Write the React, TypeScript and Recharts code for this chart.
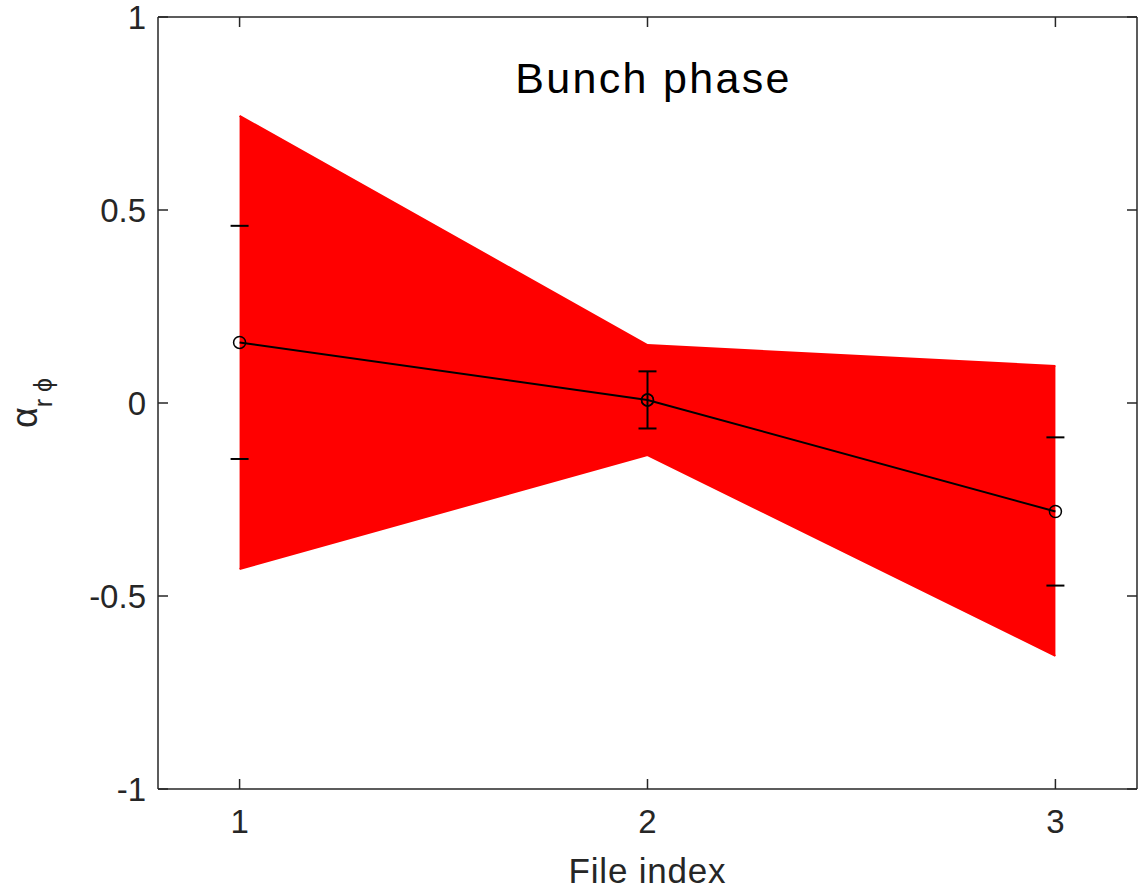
import {
  Area,
  ComposedChart,
  ErrorBar,
  Label,
  Line,
  Scatter,
  XAxis,
  YAxis,
} from "recharts";

const fileIndex = [1, 2, 3];
const alphaRPhi = [0.157, 0.008, -0.281];
const alphaErr = [0.302, 0.074, 0.192];
const bandLow = [-0.43, -0.135, -0.655];
const bandHigh = [0.744, 0.15, 0.096];

const xTicks = [1, 2, 3];
const yTicks = [-1, -0.5, 0, 0.5, 1];

const AXIS = "#262626";
const FONT = "'Liberation Sans', Arial, Helvetica, sans-serif";
const TICK_LEN = 10;
const CAP = 9;

const data = fileIndex.map((f, i) => ({
  file: f,
  alpha: alphaRPhi[i],
  err: alphaErr[i],
  band: [bandLow[i], bandHigh[i]],
}));

// middle point keeps a full error bar; at the ends the red patch hides
// the vertical stroke so only the caps show
const midData = [data[1]];
const capData = data
  .filter((_, i) => i !== 1)
  .flatMap((d) => [
    { file: d.file, cap: d.alpha + d.err },
    { file: d.file, cap: d.alpha - d.err },
  ]);

const axisLine = { stroke: AXIS, strokeWidth: 1.5 };

function CapShape({ cx, cy }: any) {
  return <line x1={cx - CAP} x2={cx + CAP} y1={cy} y2={cy} stroke="#000" strokeWidth={2} />;
}

function Marker({ cx, cy, index }: any) {
  return <circle key={index} cx={cx} cy={cy} r={6} stroke="#000" strokeWidth={1.5} fill="none" />;
}

// matlab style: tick marks point into the box, so draw them with the label
function makeTick(side: "bottom" | "top" | "left" | "right", margin: number, showText: boolean) {
  return (props: any) => {
    const { x, y, payload } = props;
    let line;
    if (side === "bottom") line = { x1: x, x2: x, y1: y - margin, y2: y - margin - TICK_LEN };
    else if (side === "top") line = { x1: x, x2: x, y1: y + margin, y2: y + margin + TICK_LEN };
    else if (side === "left") line = { x1: x + margin, x2: x + margin + TICK_LEN, y1: y, y2: y };
    else line = { x1: x - margin, x2: x - margin - TICK_LEN, y1: y, y2: y };
    return (
      <g>
        <line {...line} stroke={AXIS} strokeWidth={1.5} />
        {showText && (
          <text
            x={x}
            y={y}
            dy={side === "bottom" ? "0.71em" : "0.355em"}
            textAnchor={side === "bottom" ? "middle" : "end"}
            fontSize={33}
            fontFamily={FONT}
            fill={AXIS}
          >
            {String(payload.value)}
          </text>
        )}
      </g>
    );
  };
}

function YLabel({ viewBox }: any) {
  const x = viewBox.x + 37;
  const y = viewBox.y + viewBox.height / 2;
  return (
    <text
      transform={`translate(${x},${y}) rotate(-90)`}
      textAnchor="middle"
      fontFamily={FONT}
      fill={AXIS}
    >
      <tspan fontSize={36}>α</tspan>
      <tspan fontSize={25} dy={15}>
        r ϕ
      </tspan>
    </text>
  );
}

export default function App() {
  return (
    <div style={{ position: "absolute", left: 0, top: 0, background: "#fff" }}>
      <ComposedChart
        width={1140}
        height={888}
        data={data}
        margin={{ top: 16, right: 2, bottom: 0, left: 0 }}
      >
        <XAxis
          dataKey="file"
          type="number"
          domain={[0.8, 3.2]}
          ticks={xTicks}
          allowDataOverflow
          height={99}
          tickSize={0}
          tickMargin={21}
          tickLine={false}
          tick={makeTick("bottom", 21, true)}
          axisLine={axisLine}
        >
          <Label
            value="File index"
            position="insideBottom"
            offset={5}
            style={{ fontSize: 35, fill: AXIS, fontFamily: FONT, letterSpacing: 0.8 }}
          />
        </XAxis>
        <XAxis
          xAxisId="top"
          orientation="top"
          dataKey="file"
          type="number"
          domain={[0.8, 3.2]}
          ticks={xTicks}
          allowDataOverflow
          height={1}
          tickSize={0}
          tickMargin={0}
          tickLine={false}
          tick={makeTick("top", 0, false)}
          axisLine={axisLine}
        >
          <Label
            value="Bunch phase"
            position="bottom"
            offset={45}
            dx={6}
            style={{ fontSize: 43, fill: "#000", fontFamily: FONT, letterSpacing: 2.3 }}
          />
        </XAxis>
        <YAxis
          type="number"
          domain={[-1, 1]}
          ticks={yTicks}
          allowDataOverflow
          width={158}
          tickSize={0}
          tickMargin={12}
          tickLine={false}
          tick={makeTick("left", 12, true)}
          axisLine={axisLine}
        >
          <Label content={YLabel} />
        </YAxis>
        <YAxis
          yAxisId="right"
          orientation="right"
          type="number"
          domain={[-1, 1]}
          ticks={yTicks}
          allowDataOverflow
          width={1}
          tickSize={0}
          tickMargin={0}
          tickLine={false}
          tick={makeTick("right", 0, false)}
          axisLine={axisLine}
        />

        <Area
          xAxisId="top"
          yAxisId="right"
          dataKey="band"
          type="linear"
          fill="#ff0000"
          fillOpacity={1}
          stroke="#ff0000"
          strokeWidth={2}
          activeDot={false}
          isAnimationActive={false}
        />
        <Scatter
          data={capData}
          dataKey="cap"
          shape={CapShape}
          isAnimationActive={false}
        />
        <Line
          dataKey="alpha"
          stroke="#000"
          strokeWidth={2}
          dot={Marker}
          activeDot={false}
          isAnimationActive={false}
        />
        <Scatter
          data={midData}
          dataKey="alpha"
          shape={Marker}
          isAnimationActive={false}
        >
          <ErrorBar
            dataKey="err"
            width={CAP}
            stroke="#000"
            strokeWidth={2}
            direction="y"
          />
        </Scatter>
      </ComposedChart>
    </div>
  );
}
